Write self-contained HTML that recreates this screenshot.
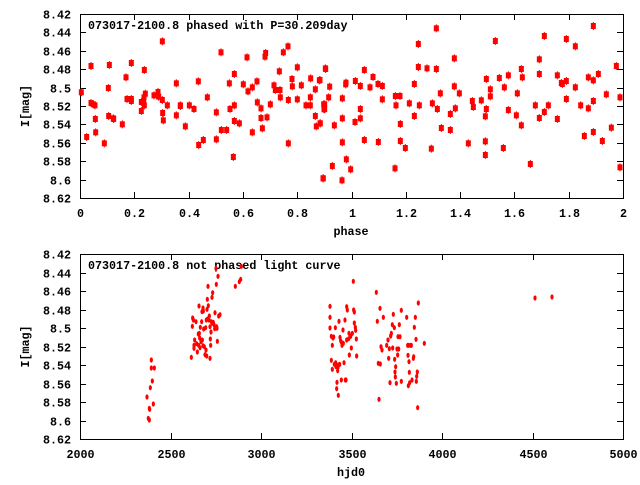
<!DOCTYPE html>
<html><head><meta charset="utf-8"><style>
body{margin:0;background:#fff}
svg text{font-family:"Liberation Mono",monospace;font-weight:bold;font-size:11.7px;fill:#000}
</style></head><body>
<svg id="s" width="640" height="480" xmlns="http://www.w3.org/2000/svg"></svg>
<script>
const s=document.getElementById('s');let h='';
const L=80,R=623;
function axes(top,bot,xt,ylab,title,xlabel){
 h+=`<rect x="${L}.5" y="${top}.5" width="${R-L}" height="${bot-top}" fill="none" stroke="#000" stroke-width="1"/>`;
 const yl=['8.42','8.44','8.46','8.48','8.5','8.52','8.54','8.56','8.58','8.6','8.62'];
 for(let i=0;i<11;i++){const y=Math.round(top+(bot-top)*i/10)+0.5;
  h+=`<line x1="${L}" x2="${L+6}" y1="${y}" y2="${y}" stroke="#000"/><line x1="${R-6}" x2="${R}" y1="${y}" y2="${y}" stroke="#000"/>`;
  h+=`<text x="71" y="${y+4}" text-anchor="end">${yl[i]}</text>`;}
 for(let i=0;i<xt.length;i++){const x=Math.round(L+(R-L)*i/(xt.length-1))+0.5;
  h+=`<line x1="${x}" x2="${x}" y1="${bot}" y2="${bot-6}" stroke="#000"/><line x1="${x}" x2="${x}" y1="${top}" y2="${top+6}" stroke="#000"/>`;
  h+=`<text x="${x}" y="${bot+19}" text-anchor="middle">${xt[i]}</text>`;}
 h+=`<text x="88" y="${top+15}">${title}</text>`;
 h+=`<text x="351" y="${bot+37}" text-anchor="middle">${xlabel}</text>`;
 const cy=(top+bot)/2;h+=`<text transform="translate(29,${cy}) rotate(-90)" text-anchor="middle">I[mag]</text>`;
}
axes(14,198,['0','0.2','0.4','0.6','0.8','1','1.2','1.4','1.6','1.8','2'],0,'073017-2100.8 phased with P=30.209day','phase');
axes(254,439,['2000','2500','3000','3500','4000','4500','5000'],0,'073017-2100.8 not phased light curve','hjd0');
const z1=[[244,277],[260,411],[273,198],[273,309],[280,313],[285,316],[286,357],[287,397],[313,430],[325,264],[326,348],[328,195],[340,355],[341,357],[367,373],[378,232],[381,297],[394,189],[394,297],[394,303],[424,333],[424,306],[431,308],[432,292],[433,210],[433,316],[436,281],[462,286],[474,276],[476,290],[487,124],[487,300],[488,339],[490,361],[502,316],[529,250],[529,346],[541,316],[541,318],[556,379],[568,316],[582,327],[595,244],[596,435],[610,420],[622,292],[649,337],[649,418],[663,157],[664,390],[680,390],[688,250],[690,327],[700,471],[703,222],[703,316],[703,363],[718,370],[730,253],[741,172],[744,274],[757,262],[757,397],[771,244],[772,307],[783,325],[783,354],[787,385],[795,170],[797,159],[801,352],[811,313],[822,256],[826,270],[838,214],[840,270],[841,292],[850,157],[864,139],[865,300],[865,430],[876,237],[877,259],[892,202],[892,298],[904,256],[918,316],[931,316],[932,235],[931,292],[946,268],[946,348],[949,379],[958,241],[961,370],[969,535],[974,313],[974,327],[977,207]];
const z2=[[0,240],[0,370],[11,313],[12,328],[16,205],[10,535],[29,260],[26,292],[43,376],[37,498],[67,295],[67,355],[67,427],[66,541],[78,248],[79,478],[77,253],[92,508],
[105,366],[106,243],[121,258],[121,327],[121,355],[133,210],[133,420],[150,262],[159,231],[174,252],[175,426],[187,258],[187,298],[226,288],[228,316],[240,288],[241,372],[241,423],[225,505],[256,444],[268,310],[283,252],[283,348],[295,132],[295,201],[298,316],[321,205],[334,446],[337,310],[349,85],[349,207],[352,327],[361,280],[364,384],[391,342],[391,390],[403,175],[403,259],[406,325],[418,280],[445,430],[457,303],[460,321],[484,301],[496,349],[496,424],[496,465],[499,237],[499,327],[511,289],[511,268],[526,123],[538,234],[550,444],[553,262],[565,226],[565,330],[589,346],[592,280],[604,207],[604,376],[607,232],[631,492],[646,316],[658,178],[658,222],[658,354],[673,108],[673,336],[685,316],[712,226],[712,357],[724,249],[727,252],[739,117],[739,243],[739,297],[766,139],[766,262],[782,316],[793,408],[805,232],[805,325],[820,78],[820,241],[820,303],[820,396],[835,222],[847,423],[859,283],[874,383],[889,198],[900,292],[900,502]];
let pts=z1.map(p=>[p[0]/3,p[1]/3]).concat(z2.map(p=>[320+p[0]/3,p[1]/3]));
for(const [X,y] of pts){
 h+=`<rect x="${X-2.5}" y="${y-3}" width="5" height="6" fill="#f00"/><rect x="${X-0.5}" y="${y-4}" width="1" height="8" fill="#f00"/>`;}
const z3=[[441,471],[445,535],[448,540],[448,505],[449,508],[451,443],[454,360],[454,384],[457,423],[460,492],[463,384],
[574,352],[577,259],[578,234],[580,240],[582,316],[582,325],[584,300],[588,245],[590,311],[592,336],[595,282],[596,316],[597,198],[598,280],[599,294],[600,323],[601,262],[603,305],[605,245],[606,215],[607,300],[609,204],[609,317],[610,213],[611,267],[613,320],[615,344],[617,263],[618,330],[619,240],[620,348],[621,208],[622,178],[623,237],[624,139],[625,197],[627,240],[628,228],[630,260],[630,355],[631,297],[632,316],[633,276],[634,245],[636,172],[637,250],[638,158],[640,247],[642,254],[644,266],[645,218],[648,85],[649,133],[650,260],[651,265],[652,304],[654,109],[656,228],[660,224],[706,139],[718,125],[722,118],[724,79],
[990,199],[990,232],[990,264],[994,289],[994,361],[997,388],[997,316],[999,294],[1001,291],[1003,373],[1006,263],[1007,368],[1008,380],[1010,446],[1011,427],[1013,392],[1014,382],[1015,466],[1015,375],[1017,244],[1019,373],[1020,292],[1022,302],[1024,306],[1024,420],[1026,316],[1027,311],[1029,270],[1030,310],[1032,368],[1035,240],[1036,420],[1038,420],[1040,300],[1040,200],[1042,210],[1046,296],[1047,280],[1048,345],[1052,289],[1054,324],[1057,280],[1060,124],[1061,210],[1063,216],[1063,249],[1066,262],[1067,271],[1069,297],[1070,348],
[1129,157],[1132,244],[1135,370],[1137,478],[1140,205],[1141,372],[1143,320],[1146,330],[1150,232],[1160,316],[1164,300],[1166,355],[1168,326],[1170,428],[1172,288],[1174,280],[1177,254],[1178,324],[1180,223],[1183,263],[1184,358],[1185,396],[1186,411],[1187,380],[1189,430],[1191,327],[1193,345],[1194,290],[1196,327],[1198,254],[1200,290],[1204,211],[1204,424],[1220,232],[1223,316],[1224,346],[1225,437],[1226,316],[1227,365],[1228,397],[1229,428],[1232,316],[1234,316],[1236,420],[1240,355],[1241,350],[1243,262],[1246,232],[1248,298],[1249,424],[1250,409],[1252,396],[1253,503],[1255,189],[1273,310]];
let p3=z3.map(p=>[p[0]/3,240+p[1]/3]).concat([[535,298],[552,297]]);
for(const [x,y] of p3){h+=`<ellipse cx="${x}" cy="${y}" rx="1.6" ry="2.6" fill="#f00"/>`;}
s.innerHTML=h;
</script>
</body></html>
